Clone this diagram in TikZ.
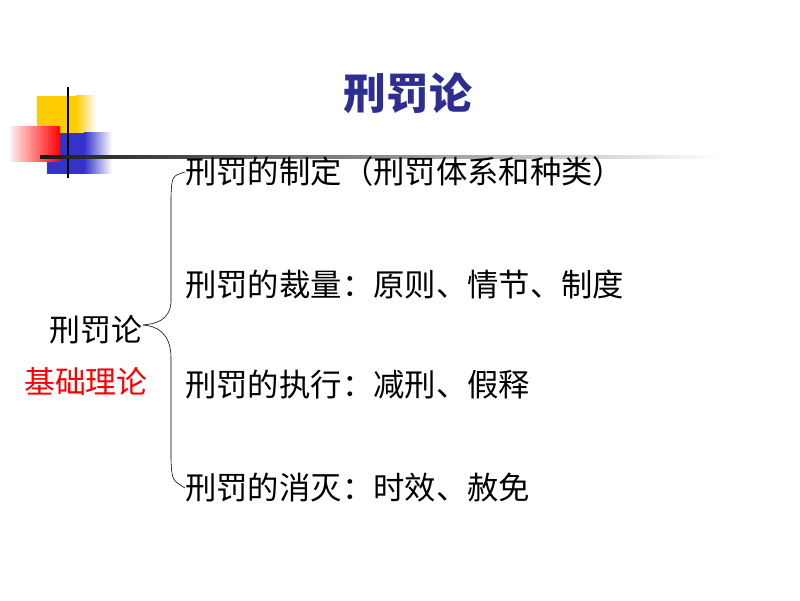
\documentclass[tikz,border=0pt]{standalone}
\usepackage{fontspec}
\newfontfamily\cjk{Noto Sans CJK SC}
\definecolor{titleblue}{RGB}{46,46,146}
\definecolor{deco yellow}{RGB}{255,204,0}
\definecolor{deco blue}{RGB}{51,51,204}
\begin{document}
\begin{tikzpicture}[
    item/.style={anchor=west, inner sep=0pt, font=\cjk\fontsize{22.3pt}{25pt}\selectfont},
    lefttext/.style={inner sep=0pt, font=\cjk\fontsize{22pt}{25pt}\selectfont}]
    \useasboundingbox (0,0) rectangle (20,15);

    % Deco squares
    \fill[deco yellow] (0.925,12.6) rectangle (1.9,11.675);
    \shade[left color=deco yellow, right color=white] (1.9,12.6) rectangle (2.4,11.675);
    \fill[deco blue] (1.175,11.675) rectangle (2.1,10.65);
    \shade[left color=deco blue, right color=white] (2.1,11.675) rectangle (2.8,10.65);
    \shade[left color=red!8, right color=red] (0.275,11.825) rectangle (1.5,10.95);
    \draw[line width=1.5pt] (1.7,12.825) -- (1.7,10.55);
    \shade[left color=black!90, middle color=black!55, right color=white] (1.0,11.03) rectangle (18,11.12);

    % Title
    \node (title) [font=\cjk\bfseries\fontsize{30.5pt}{32pt}\selectfont, text=titleblue] at (10.2,12.675) {刑罚论};

    % Left labels
    \node (theory) [lefttext] at (2.4,6.75) {刑罚论};
    \node (basis) [lefttext, text=red] at (2.15,5.45) {基础理论};

    % Items
    \node (make) [item] at (4.625,10.7) {刑罚的制定（刑罚体系和种类）};
    \node (measure) [item] at (4.625,7.875) {刑罚的裁量：原则、情节、制度};
    \node (execute) [item] at (4.625,5.375) {刑罚的执行：减刑、假释};
    \node (end) [item] at (4.625,2.8) {刑罚的消灭：时效、赦免};

    % Brace
    \coordinate (tip) at (3.575,6.875);
    \draw[thin] (make.west) .. controls (4.3,10.6) .. (4.275,10.1)
        -- (4.275,7.45) .. controls (4.25,7.0) and (3.9,6.9) .. (tip);
    \draw[thin] (tip) .. controls (3.9,6.85) and (4.25,6.7) .. (4.275,6.1)
        -- (4.275,3.5) .. controls (4.3,3.0) .. (end.west);
\end{tikzpicture}
\end{document}
